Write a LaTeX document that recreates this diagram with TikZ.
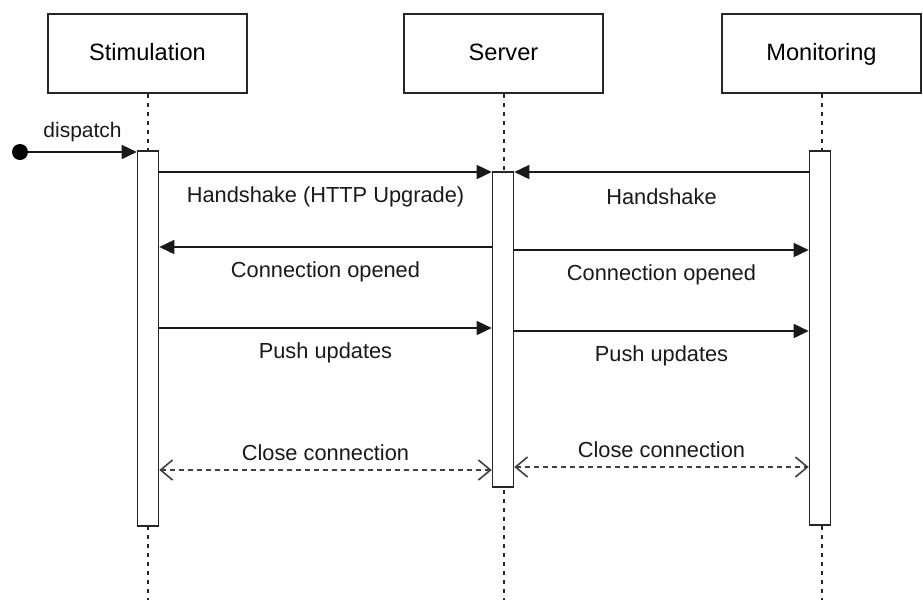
\documentclass[tikz,border=0pt]{standalone}
\usepackage{fontspec}
\setmainfont{Liberation Sans}
\usepackage{tikz}
\usetikzlibrary{arrows.meta}

\begin{document}
\begin{tikzpicture}[x=0.5pt,y=-0.5pt,
  actor/.style={draw=black!85,line width=0.8pt,minimum width=99.5pt,minimum height=39.5pt,inner sep=1pt,
    text height=8.6pt,text depth=1.4pt,font=\fontsize{11.8}{14}\selectfont},
  life/.style={draw=black!85,line width=1pt,dash pattern=on 2pt off 2.5pt},
  bar/.style={draw=black!85,fill=white,line width=0.8pt,minimum width=10.5pt,inner sep=0pt},
  msg/.style={draw=black!90,line width=0.8pt,-{Triangle[length=7.5pt,width=7pt]}},
  closemsg/.style={draw=black!75,line width=0.8pt,dash pattern=on 2.5pt off 2pt,
    {Straight Barb[length=6pt,width=10pt]}-{Straight Barb[length=6pt,width=10pt]}},
  below lbl/.style={midway,yshift=-12.5pt,font=\fontsize{10.9}{13}\selectfont,text=black!90},
  above lbl/.style={midway,yshift=8.5pt,font=\fontsize{10.9}{13}\selectfont,text=black!90}]
\useasboundingbox (0,0) rectangle (923,602);
\newcommand{\sendmsg}[6]{
  \draw[#5] (#2 |- 0,#1) -- (#3 |- 0,#1) node[#6] {#4};
}
% participants and their lifelines
\foreach \nm/\txt/\xx in {stim/Stimulation/147.5,srv/Server/503.5,mon/Monitoring/821.5} {
  \node[actor] (\nm) at (\xx,53.5) {\txt};
  \draw[life] (\nm.south) -- (\nm.south |- 0,600);
}
% activation bars
\node[bar,minimum height=187.5pt] (actS) at (148,338.5) {};
\node[bar,minimum height=157.5pt] (actV) at (503,329.5) {};
\node[bar,minimum height=187pt] (actM) at (820,338) {};
% found message
\node[circle,fill=black,inner sep=0pt,minimum size=8pt] (start) at (20,152) {};
\draw[msg] (start) -- (actS.west |- start) node[midway,yshift=10pt,font=\fontsize{10.5}{12}\selectfont,text=black!90] {dispatch};
% messages
\sendmsg{172}{actS.east}{actV.west}{Handshake (HTTP Upgrade)}{msg}{below lbl}
\sendmsg{172}{actM.west}{actV.east}{Handshake}{msg}{below lbl}
\sendmsg{247}{actV.west}{actS.east}{Connection opened}{msg}{below lbl}
\sendmsg{250}{actV.east}{actM.west}{Connection opened}{msg}{below lbl}
\sendmsg{328}{actS.east}{actV.west}{Push updates}{msg}{below lbl}
\sendmsg{331}{actV.east}{actM.west}{Push updates}{msg}{below lbl}
\sendmsg{470}{actS.east}{actV.west}{Close connection}{closemsg}{above lbl}
\sendmsg{467}{actV.east}{actM.west}{Close connection}{closemsg}{above lbl}
\end{tikzpicture}
\end{document}
